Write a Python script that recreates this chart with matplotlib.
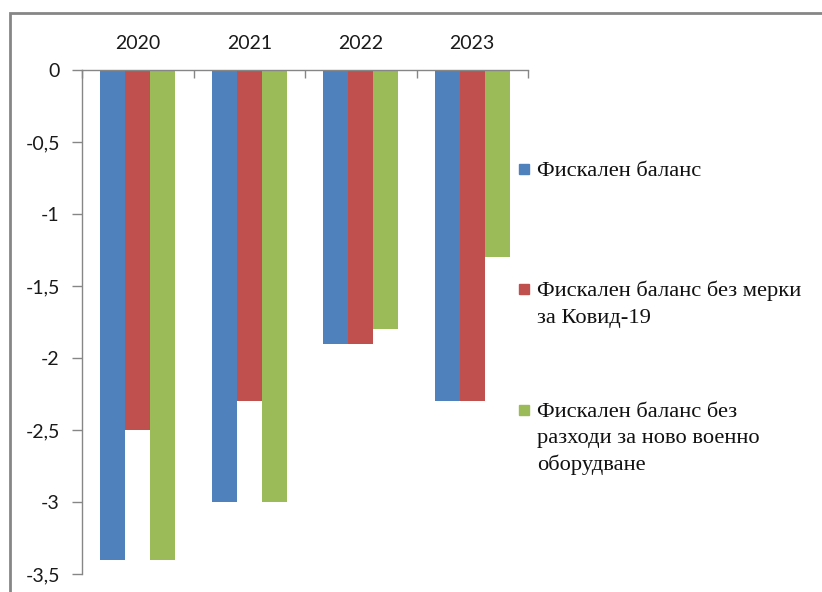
import numpy as np
import matplotlib
matplotlib.use("Agg")
from matplotlib import pyplot as plt
from matplotlib.patches import Rectangle

years = ["2020", "2021", "2022", "2023"]
series_names = ["Фискален баланс",
                "Фискален баланс без мерки\nза Ковид-19",
                "Фискален баланс без\nразходи за ново военно\nоборудване"]
fiscal = [-3.4, -3.0, -1.9, -2.3]
no_covid = [-2.5, -2.3, -1.9, -2.3]
no_military = [-3.4, -3.0, -1.8, -1.3]
y_ticks = [0, -0.5, -1, -1.5, -2, -2.5, -3, -3.5]
y_labels = ["0", "-0,5", "-1", "-1,5", "-2", "-2,5", "-3", "-3,5"]

colors = ["#4F81BD", "#C0504D", "#9BBB59"]
W, H = 822, 592

fig = plt.figure(figsize=(W / 100, H / 100), dpi=100)
ax = fig.add_axes([82 / W, 1 - 574 / H, (528 - 82) / W, (574 - 70) / H])

x = np.arange(len(years))
bw = 0.224
for i, vals in enumerate([fiscal, no_covid, no_military]):
    ax.bar(x + (i - 1) * bw, vals, bw, color=colors[i], linewidth=0)

ax.set_xlim(-0.5, len(years) - 0.5)
ax.set_ylim(-3.5, 0)
ax.set_yticks(y_ticks)
ax.set_yticklabels(y_labels)

ax.set_xticks(x)
ax.set_xticklabels(years)
ax.set_xticks(np.arange(len(years) + 1) - 0.5, minor=True)
ax.xaxis.tick_top()
ax.tick_params(axis="x", which="major", length=0, pad=13, labelsize=14,
               labelcolor="#1a1a1a")
ax.tick_params(axis="x", which="minor", direction="in", length=6,
               color="#868686", width=1)
ax.tick_params(axis="y", direction="out", length=7, color="#868686",
               width=1, pad=9, labelsize=14, labelcolor="#1a1a1a")
for lab in ax.get_xticklabels() + ax.get_yticklabels():
    lab.set_fontfamily("Lato")

for s in ["right", "bottom"]:
    ax.spines[s].set_visible(False)
for s in ["left", "top"]:
    ax.spines[s].set_color("#868686")
    ax.spines[s].set_linewidth(1)

# legend drawn by hand so the square sits on the first line
baselines = [176, 296, 417]
for i, name in enumerate(series_names):
    yb = baselines[i]
    fig.patches.append(Rectangle((519 / W, 1 - (yb - 2) / H), 10 / W, 10 / H,
                                 transform=fig.transFigure, color=colors[i]))
    for k, line in enumerate(name.split("\n")):
        fig.text(537 / W, 1 - (yb + 26.5 * k) / H, line, fontsize=16.2,
                 family="Liberation Serif", color="#111111", va="baseline")

# outer chart border
fig.patches.append(Rectangle((10 / W, -0.1), 1.2, 1 - 13 / H + 0.1,
                             transform=fig.transFigure, fill=False,
                             edgecolor="#868686", linewidth=2))

fig.savefig("out.png", dpi=100)
